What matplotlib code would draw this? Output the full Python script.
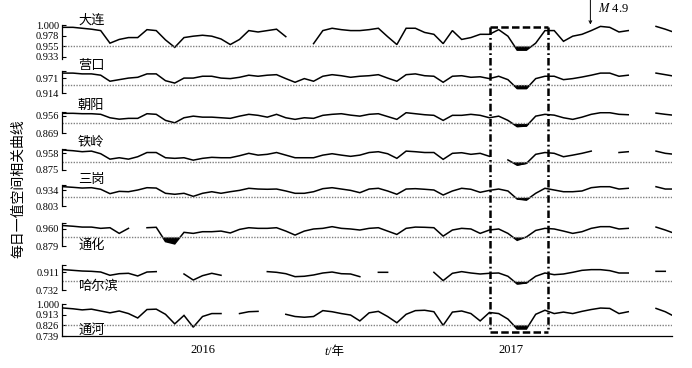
import numpy as np
import pandas as pd
import matplotlib.pyplot as plt
import matplotlib.dates as mdates
from matplotlib.lines import Line2D
from matplotlib.transforms import blended_transform_factory

plt.rcParams['font.family'] = ['Liberation Serif', 'Noto Sans CJK SC']
plt.rcParams['mathtext.fontset'] = 'stix'

# -------------------- DATOS --------------------
dates = pd.date_range('2015-07-19', periods=67, freq='11D')

stations = ['大连', '营口', '朝阳', '铁岭', '三岗', '通化', '哈尔滨', '通河']
thresholds = [0.955, 0.947, 0.918, 0.916, 0.874, 0.920, 0.820, 0.826]

dalian = [0.996, 0.996, 0.994, 0.992, 0.989, 0.962, 0.970, 0.974, 0.974, 0.991,
          0.989, 0.969, 0.953, 0.974, 0.977, 0.979, 0.977, 0.971, 0.959, 0.970,
          0.989, 0.986, 0.989, 0.992, 0.976, None, None, 0.961, 0.989, 0.994,
          0.991, 0.989, 0.989, 0.991, 0.994, 0.976, 0.959, 0.994, 0.994, 0.985,
          0.981, 0.961, 0.989, 0.970, 0.974, 0.981, 0.981, 0.991, 0.977, 0.947,
          0.947, 0.962, 0.989, 0.989, 0.966, 0.977, 0.981, 0.989, 0.998, 0.996,
          0.986, 0.989, None, None, 0.998, 0.992, 0.985]
yingkou = [0.991, 0.991, 0.988, 0.988, 0.983, 0.960, 0.966, 0.972, 0.975, 0.988,
           0.988, 0.962, 0.953, 0.972, 0.972, 0.979, 0.979, 0.972, 0.970, 0.975,
           0.983, 0.979, 0.983, 0.985, 0.970, 0.956, 0.970, 0.960, 0.979, 0.985,
           0.981, 0.975, 0.979, 0.981, 0.985, 0.972, 0.960, 0.985, 0.988, 0.981,
           0.979, 0.956, 0.979, 0.981, 0.975, 0.977, 0.970, 0.979, 0.966, 0.932,
           0.932, 0.970, 0.979, 0.979, 0.966, 0.970, 0.976, 0.983, 0.991, 0.991,
           0.979, 0.983, None, None, 0.991, 0.985, 0.979]
chaoyang = [0.968, 0.968, 0.966, 0.966, 0.963, 0.946, 0.939, 0.943, 0.943, 0.966,
            0.963, 0.933, 0.921, 0.946, 0.954, 0.949, 0.949, 0.946, 0.943, 0.954,
            0.963, 0.958, 0.949, 0.963, 0.946, 0.938, 0.946, 0.943, 0.958, 0.963,
            0.966, 0.959, 0.954, 0.963, 0.966, 0.952, 0.938, 0.971, 0.966, 0.961,
            0.958, 0.933, 0.958, 0.958, 0.963, 0.958, 0.946, 0.954, 0.933, 0.902,
            0.905, 0.954, 0.963, 0.959, 0.946, 0.938, 0.949, 0.963, 0.971, 0.971,
            0.963, 0.961, None, None, 0.969, 0.963, 0.958]
tieling = [0.974, 0.971, 0.966, 0.969, 0.956, 0.929, 0.936, 0.929, 0.941, 0.962,
           0.962, 0.936, 0.933, 0.936, 0.924, 0.933, 0.938, 0.936, 0.936, 0.946,
           0.958, 0.949, 0.953, 0.962, 0.949, 0.936, 0.936, 0.936, 0.949, 0.956,
           0.949, 0.943, 0.949, 0.962, 0.966, 0.956, 0.933, 0.969, 0.966, 0.962,
           0.962, 0.928, 0.958, 0.961, 0.953, 0.958, 0.943, None, 0.925, 0.899,
           0.908, 0.953, 0.962, 0.958, 0.941, 0.949, 0.958, 0.969, None, None,
           0.962, 0.966, None, None, 0.969, 0.958, 0.953]
sangang = [0.961, 0.956, 0.950, 0.953, 0.940, 0.904, 0.923, 0.920, 0.934, 0.953,
           0.950, 0.907, 0.899, 0.907, 0.882, 0.907, 0.920, 0.907, 0.920, 0.931,
           0.948, 0.942, 0.940, 0.942, 0.926, 0.907, 0.907, 0.920, 0.945, 0.953,
           0.942, 0.931, 0.912, 0.942, 0.948, 0.926, 0.899, 0.942, 0.945, 0.940,
           0.934, 0.893, 0.926, 0.948, 0.940, 0.915, 0.931, 0.942, 0.926, 0.860,
           0.852, 0.907, 0.948, 0.934, 0.920, 0.920, 0.926, 0.953, 0.961, 0.961,
           0.942, 0.948, None, None, 0.961, 0.942, 0.942]
tonghua = [0.976, 0.973, 0.969, 0.969, 0.963, 0.966, 0.939, 0.963, None, 0.966,
           0.968, 0.900, 0.889, 0.944, 0.939, 0.947, 0.947, 0.950, 0.941, 0.958,
           0.966, 0.963, 0.963, 0.966, 0.950, 0.931, 0.950, 0.960, 0.963, 0.971,
           0.963, 0.960, 0.955, 0.963, 0.966, 0.950, 0.934, 0.963, 0.969, 0.968,
           0.966, 0.926, 0.955, 0.963, 0.960, 0.939, 0.955, 0.960, 0.939, 0.906,
           0.922, 0.953, 0.963, 0.960, 0.950, 0.939, 0.947, 0.963, 0.971, 0.971,
           0.960, 0.963, None, None, 0.969, 0.955, 0.939]
haerbin = [0.938, 0.931, 0.924, 0.921, 0.914, 0.881, 0.897, 0.901, 0.874, 0.914,
           0.918, None, None, 0.894, 0.833, 0.877, 0.901, 0.881, None, None,
           None, None, 0.918, 0.911, 0.897, 0.867, 0.871, 0.884, 0.904, 0.914,
           0.897, 0.894, 0.867, None, 0.911, 0.911, None, None, None, None,
           0.911, 0.827, 0.901, 0.918, 0.904, 0.894, 0.901, 0.904, 0.871, 0.793,
           0.803, 0.871, 0.904, 0.887, 0.894, 0.911, 0.931, 0.938, 0.938, 0.928,
           0.904, 0.904, None, None, 0.921, 0.921, None]
tonghe = [0.967, 0.961, 0.952, 0.958, 0.943, 0.928, 0.943, 0.922, 0.886, 0.955,
          0.958, 0.916, 0.838, 0.907, 0.811, 0.898, 0.922, 0.922, None, 0.922,
          0.937, 0.940, None, None, 0.916, 0.898, 0.892, 0.898, 0.946, 0.937,
          0.922, 0.910, 0.862, 0.928, 0.940, 0.898, 0.847, 0.916, 0.946, 0.949,
          0.937, 0.826, 0.934, 0.943, 0.922, 0.862, 0.931, 0.922, 0.877, 0.796,
          0.796, 0.916, 0.949, 0.922, 0.934, 0.922, 0.940, 0.955, 0.967, 0.964,
          0.922, 0.937, None, None, 0.964, 0.937, 0.898]
series = [dalian, yingkou, chaoyang, tieling, sangang, tonghua, haerbin, tonghe]

ylims = [(0.928, 1.001), (0.914, 0.999), (0.869, 0.976), (0.875, 0.978),
         (0.803, 0.975), (0.879, 0.987), (0.732, 0.985), (0.739, 1.000)]
tick_labels = [['1.000', '0.978', '0.955', '0.933'], ['0.971', '0.914'],
               ['0.956', '0.869'], ['0.958', '0.875'], ['0.934', '0.803'],
               ['0.960', '0.879'], ['0.911', '0.732'],
               ['1.000', '0.913', '0.826', '0.739']]

# -------------------- LAYOUT (pixeles) --------------------
W_PX, H_PX = 692, 368
panel_px = [(25, 59), (71, 93.3), (111.7, 133.3), (149.3, 170),
            (185, 206), (223.3, 246), (265, 290), (304, 336)]
label_py = [20.5, 66, 105, 142.5, 180, 245, 286.5, 330]
xmin, xmax = pd.Timestamp('2015-07-17'), pd.Timestamp('2017-07-11')

fig = plt.figure(figsize=(W_PX / 100, H_PX / 100), dpi=100)
axes = []
for k in range(8):
    top, bot = panel_px[k]
    ax = fig.add_axes([62 / W_PX, 1 - bot / H_PX, 610 / W_PX, (bot - top) / H_PX])
    y = np.array(series[k], dtype=float)
    thr = thresholds[k]
    ax.plot(dates, y, color='k', lw=1.1, solid_joinstyle='miter')
    ax.fill_between(dates, y, thr, where=np.nan_to_num(y, nan=9) < thr,
                    interpolate=True, color='k', lw=0)
    ax.axhline(thr, color='0.5', lw=1.0, ls=(0, (1, 1)))
    ax.set_xlim(xmin, xmax)
    ax.set_ylim(*ylims[k])
    labs = tick_labels[k]
    ticks = [float(t) for t in labs]
    if len(labs) == 2:
        ticks.append(ylims[k][1])
        labs = labs + ['']
    ax.set_yticks(ticks)
    ax.set_yticklabels(labs)
    ax.tick_params(axis='y', direction='in', length=3, width=0.8,
                   labelsize=7.5, pad=2)
    for s in ['top', 'right']:
        ax.spines[s].set_visible(False)
    ax.spines['left'].set_linewidth(0.9)
    if k < 7:
        ax.spines['bottom'].set_visible(False)
        ax.set_xticks([])
    else:
        ax.spines['bottom'].set_linewidth(0.9)
        ax.set_xticks([pd.Timestamp('2016-01-01'), pd.Timestamp('2017-01-01')])
        ax.set_xticklabels(['2016', '2017'])
        ax.tick_params(axis='x', length=0, labelsize=9, pad=6)
    ax.patch.set_alpha(0)
    fig.text(78 / W_PX, 1 - label_py[k] / H_PX, stations[k], fontsize=9.5,
             family=['Noto Sans CJK SC'], ha='left', va='center')
    axes.append(ax)

# -------------------- TEXTOS --------------------
fig.text(18 / W_PX, 1 - 189 / H_PX, '每日一值空间相关曲线', rotation=90,
         fontsize=10, family=['Noto Sans CJK SC'], ha='center', va='center')
fig.text(328 / W_PX, 1 - 352 / H_PX, 't', style='italic', fontsize=9,
         ha='right', va='center')
fig.text(328 / W_PX, 1 - 352 / H_PX, '/年', fontsize=9, ha='left', va='center')

# -------------------- RECUADRO --------------------
box_left = mdates.date2num(pd.Timestamp('2016-12-07'))
box_right = mdates.date2num(pd.Timestamp('2017-02-14'))
tr = blended_transform_factory(axes[7].transData, fig.transFigure)
y_top, y_bot = 1 - 26.5 / H_PX, 1 - 331.5 / H_PX
for xs, ys, ls in [([box_left, box_right], [y_top, y_top], (0, (3, 1.3))),
                   ([box_left, box_right], [y_bot, y_bot], (0, (3, 1.3))),
                   ([box_left, box_left], [y_top, y_bot], (0, (3, 1.2, 0.7, 1.2))),
                   ([box_right, box_right], [y_top, y_bot], (0, (3, 1.2, 0.7, 1.2)))]:
    fig.add_artist(Line2D(xs, ys, transform=tr, color='k', lw=1.8, ls=ls))

# -------------------- M 4.9 --------------------
date_M = mdates.date2num(pd.Timestamp('2017-04-05'))
tr_M = blended_transform_factory(axes[0].transData, fig.transFigure)
axes[0].annotate('', xy=(date_M, 0.999), xytext=(date_M, 1.0),
                 textcoords=tr_M, annotation_clip=False,
                 arrowprops=dict(arrowstyle='->', color='k', lw=0.7,
                                 mutation_scale=5, shrinkA=0, shrinkB=1))
fig.text(598 / W_PX, 1 - 8 / H_PX, '$M$ 4.9', fontsize=9, ha='left', va='center')

fig.savefig('out.png', dpi=100)
